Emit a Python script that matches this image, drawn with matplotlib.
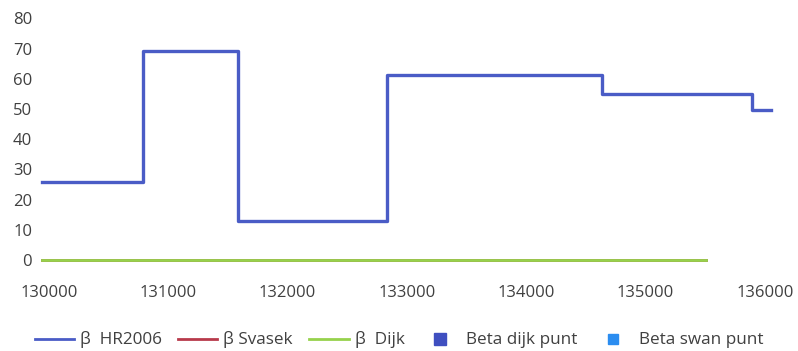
import matplotlib
matplotlib.use("Agg")
import matplotlib.pyplot as plt
from matplotlib.lines import Line2D

# Data (step series, value holds until next x)
hr_x = [129940, 130791, 131587, 132831, 134632, 135895, 136049]
hr_y = [25.9, 69.3, 13.0, 61.1, 54.9, 49.7, 49.7]
dijk_x = [129940, 135504]
dijk_y = [0.0, 0.0]
svasek_x = [129940, 135504]
svasek_y = [0.0, 0.0]

xticks = [130000, 131000, 132000, 133000, 134000, 135000, 136000]
yticks = [0, 10, 20, 30, 40, 50, 60, 70, 80]

blue = "#4a5cc6"
red = "#b83a4b"
green = "#96d24c"
sq1 = "#3f4fc0"
sq2 = "#2b8df0"
txt = "#404040"

plt.rcParams['font.family'] = ['Open Sans', 'DejaVu Sans']

W, H = 798, 351
fig = plt.figure(figsize=(W/100, H/100), dpi=100)
x0, x1 = 41.8, 776.7
y0, y1 = 260, 18.3
ax = fig.add_axes([x0/W, (H-y0)/H, (x1-x0)/W, (y0-y1)/H])

ax.step(svasek_x, svasek_y, where='post', color=red, lw=2.0, clip_on=False)
ax.step(dijk_x, dijk_y, where='post', color=green, lw=2.0, clip_on=False)
ax.step(hr_x, hr_y, where='post', color=blue, lw=2.4, clip_on=False)

ax.set_xlim(129940, 136100)
ax.set_ylim(0, 80)
ax.set_xticks(xticks)
ax.set_xticklabels([str(v) for v in xticks])
ax.set_yticks(yticks)
for s in ax.spines.values():
    s.set_visible(False)
ax.tick_params(length=0, labelsize=12, colors=txt)
ax.tick_params(axis='x', pad=18)
ax.tick_params(axis='y', pad=7)

handles = [
    Line2D([], [], color=blue, lw=2.0),
    Line2D([], [], color=red, lw=2.0),
    Line2D([], [], color=green, lw=2.0),
    Line2D([], [], color=sq1, marker='s', ls='none', markersize=8),
    Line2D([], [], color=sq2, marker='s', ls='none', markersize=7),
]
labels = ["β  HR2006", "β Svasek", "β  Dijk", "Beta dijk punt", "Beta swan punt"]
leg = fig.legend(handles, labels, loc='center', bbox_to_anchor=(0.5, 11/H), ncol=5,
                 frameon=False, fontsize=12.3, handlelength=2.3, handletextpad=0.35,
                 columnspacing=0.95, borderpad=0, borderaxespad=0)
for t in leg.get_texts():
    t.set_color(txt)

fig.savefig("out.png", dpi=100)
